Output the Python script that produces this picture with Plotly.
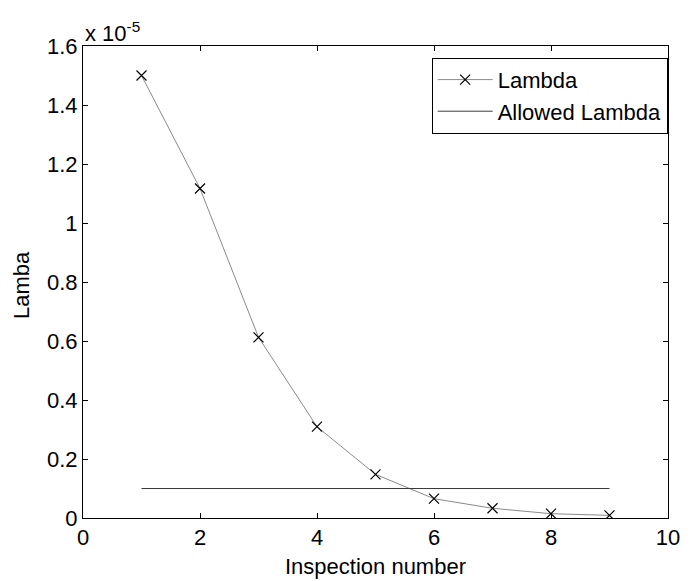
import plotly.graph_objects as go

# Inspection results
inspection = [1, 2, 3, 4, 5, 6, 7, 8, 9]
lambda_vals = [1.50e-5, 1.117e-5, 0.6125e-5, 0.3095e-5, 0.148e-5, 0.0655e-5, 0.033e-5, 0.0146e-5, 0.009e-5]

# Allowed threshold across the inspection span
allowed_x = [1, 9]
allowed_y = [0.1e-5, 0.1e-5]

x_ticks = [0, 2, 4, 6, 8, 10]
y_ticks = [0, 0.2e-5, 0.4e-5, 0.6e-5, 0.8e-5, 1.0e-5, 1.2e-5, 1.4e-5, 1.6e-5]
y_tick_labels = ["0", "0.2", "0.4", "0.6", "0.8", "1", "1.2", "1.4", "1.6"]

FONT = "Liberation Sans, Arial, sans-serif"
FS = 22

fig = go.Figure()
fig.add_trace(go.Scatter(
    x=inspection, y=lambda_vals, mode="lines+markers", name="Lambda",
    legendgroup="a",
    line=dict(color="#8a8a8a", width=1),
    marker=dict(symbol="x-thin-open", size=10, color="black",
                line=dict(color="black", width=1.2)),
))
fig.add_trace(go.Scatter(
    x=allowed_x, y=allowed_y, mode="lines", name="Allowed Lambda",
    legendgroup="b",
    line=dict(color="#3a3a3a", width=1),
))

axis_common = dict(
    showgrid=False, zeroline=False, showline=True, linecolor="black",
    linewidth=1, mirror="ticks", ticks="inside", ticklen=5,
    tickcolor="black", tickfont=dict(family=FONT, size=FS, color="black"),
)

fig.update_layout(
    width=692, height=581,
    margin=dict(l=83, r=14, t=46, b=63),
    paper_bgcolor="white", plot_bgcolor="white",
    font=dict(family=FONT, size=FS, color="black"),
    showlegend=True,
    legend=dict(
        x=0.596, y=0.975, xanchor="left", yanchor="top",
        bordercolor="black", borderwidth=1, bgcolor="white",
        font=dict(family=FONT, size=FS, color="black"),
        tracegroupgap=0, itemwidth=55,
    ),
    xaxis=dict(range=[0, 10], tickvals=x_ticks, ticklabelstandoff=0,
               **axis_common),
    yaxis=dict(range=[0, 1.6e-5], tickvals=y_ticks, ticktext=y_tick_labels,
               ticklabelstandoff=0, **axis_common),
    annotations=[
        dict(text="x 10<sup>-5</sup>", xref="paper", yref="paper",
             x=0, y=1, xanchor="left", yanchor="bottom", yshift=-2,
             showarrow=False, font=dict(family=FONT, size=FS, color="black")),
        dict(text="Inspection number", xref="paper", yref="paper",
             x=0.5, y=0, xanchor="center", yanchor="middle", yshift=-48,
             showarrow=False, font=dict(family=FONT, size=FS, color="black")),
        dict(text="Lamba", xref="paper", yref="paper", textangle=-90,
             x=0, y=0.5, xanchor="center", yanchor="middle", xshift=-62,
             yshift=-3,
             showarrow=False, font=dict(family=FONT, size=FS, color="black")),
    ],
)

fig.write_html("out.html")
